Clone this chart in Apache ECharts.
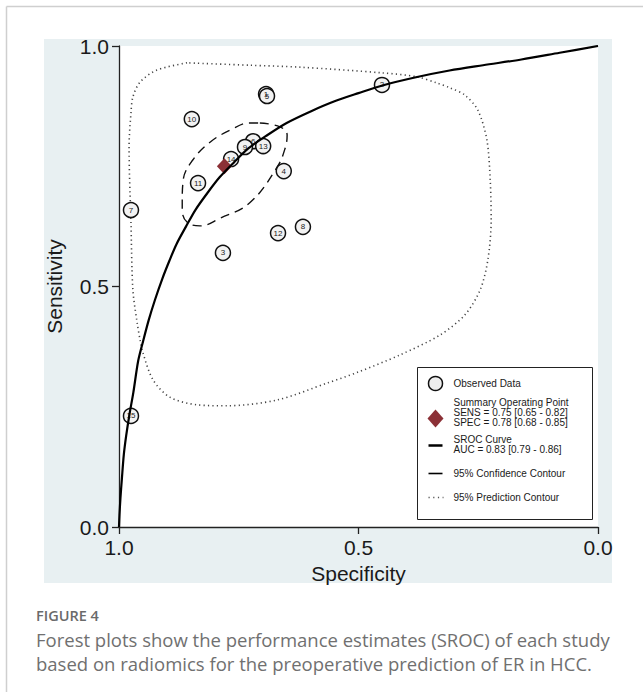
<!DOCTYPE html>
<html>
<head>
<meta charset="utf-8">
<script src="https://cdn.jsdelivr.net/npm/echarts@6/dist/echarts.min.js"></script>
<style>
  html, body { margin: 0; padding: 0; background: #fff; }
  #chart { width: 643px; height: 692px; }
</style>
</head>
<body>
<div id="chart"></div>
<script>
// observed studies
const studyIds = ['1', '5', '2', '10', '6', '13', '9', '14', '4', '11', '7', '12', '8', '3', '15'];
const studySpec = [0.693, 0.691, 0.451, 0.848, 0.720, 0.699, 0.737, 0.766, 0.656, 0.835, 0.975, 0.668, 0.616, 0.783, 0.975];
const studySens = [0.900, 0.896, 0.919, 0.848, 0.802, 0.792, 0.790, 0.765, 0.740, 0.715, 0.659, 0.611, 0.624, 0.570, 0.231];

// summary operating point
const summarySpec = 0.78;
const summarySens = 0.75;

// SROC curve, points
const srocSpec = [1, 0.999, 0.997, 0.994, 0.99, 0.985, 0.978, 0.97, 0.96, 0.95, 0.938, 0.925, 0.91, 0.895, 0.88, 0.86, 0.84, 0.815, 0.79, 0.76, 0.73, 0.69, 0.65, 0.60, 0.55, 0.50, 0.45, 0.38, 0.31, 0.24, 0.16, 0.08, 0];
const srocSens = [0, 0.025, 0.06, 0.10, 0.15, 0.19, 0.235, 0.28, 0.345, 0.385, 0.43, 0.472, 0.515, 0.553, 0.588, 0.625, 0.66, 0.695, 0.727, 0.758, 0.787, 0.815, 0.84, 0.864, 0.885, 0.902, 0.918, 0.935, 0.949, 0.96, 0.972, 0.986, 1];

// 95% confidence contour
const ciSpec = [0.706, 0.664, 0.649, 0.653, 0.670, 0.727, 0.789, 0.831, 0.858, 0.868, 0.868, 0.866, 0.846, 0.810, 0.768, 0.727, 0.706];
const ciSens = [0.840, 0.832, 0.815, 0.788, 0.748, 0.674, 0.642, 0.626, 0.634, 0.659, 0.674, 0.721, 0.763, 0.800, 0.825, 0.840, 0.840];

// 95% prediction contour
const piSpec = [0.858, 0.921, 0.956, 0.971, 0.975, 0.979, 0.975, 0.971, 0.962, 0.956, 0.950, 0.929, 0.894, 0.837, 0.775, 0.670, 0.566, 0.501, 0.413, 0.330, 0.278, 0.246, 0.230, 0.223, 0.225, 0.232, 0.251, 0.278, 0.309, 0.336, 0.378, 0.449, 0.622, 0.727, 0.858];
const piSens = [0.965, 0.950, 0.925, 0.894, 0.861, 0.790, 0.632, 0.493, 0.424, 0.389, 0.362, 0.306, 0.270, 0.254, 0.252, 0.264, 0.299, 0.322, 0.358, 0.399, 0.441, 0.493, 0.555, 0.638, 0.721, 0.805, 0.867, 0.898, 0.913, 0.923, 0.936, 0.944, 0.956, 0.960, 0.965];

const tickLabels = ['0.0', '0.5', '1.0'];

const zip = (a, b) => a.map((v, i) => [v, b[i]]);

const chart = echarts.init(document.getElementById('chart'), null, { renderer: 'svg' });

const axisFont = { fontFamily: 'Liberation Sans', fontSize: 21, color: '#1a1a1a' };
const legendText = { fontFamily: 'Liberation Sans', fontSize: 10, fill: '#1a1a1a', verticalAlign: 'middle' };
const lt = (text, y) => ({ type: 'text', x: 36, y: y, style: Object.assign({ text: text }, legendText) });

const option = {
  animation: false,
  backgroundColor: '#fff',
  grid: { left: 119, top: 46, width: 479, height: 481, show: false },
  xAxis: {
    type: 'value', min: 0, max: 1, interval: 0.5, inverse: true,
    axisLine: { show: true, onZero: false, lineStyle: { color: '#222', width: 1.3 } },
    axisTick: { show: true, length: 7, lineStyle: { color: '#222', width: 1.3 } },
    splitLine: { show: false },
    axisLabel: Object.assign({ margin: 10, formatter: v => tickLabels[Math.round(v * 2)] }, axisFont),
    name: 'Specificity', nameLocation: 'middle', nameGap: 35,
    nameTextStyle: axisFont
  },
  yAxis: {
    type: 'value', min: 0, max: 1, interval: 0.5,
    axisLine: { show: true, onZero: false, lineStyle: { color: '#222', width: 1.3 } },
    axisTick: { show: true, length: 7, lineStyle: { color: '#222', width: 1.3 } },
    splitLine: { show: false },
    axisLabel: Object.assign({ margin: 10, formatter: v => tickLabels[Math.round(v * 2)] }, axisFont),
    name: 'Sensitivity', nameLocation: 'middle', nameGap: 54,
    nameTextStyle: axisFont
  },
  series: [
    {
      name: '95% Prediction Contour', type: 'line', symbol: 'none', smooth: 0.3, z: 2,
      data: zip(piSpec, piSens),
      lineStyle: { color: '#444', width: 1.6, type: [1.2, 3.2] }
    },
    {
      name: '95% Confidence Contour', type: 'line', symbol: 'none', smooth: 0.4, z: 2,
      data: zip(ciSpec, ciSens),
      lineStyle: { color: '#111', width: 1.4, type: [9, 6] }
    },
    {
      name: 'Observed Data', type: 'scatter', symbol: 'circle', symbolSize: 15, z: 3,
      data: studyIds.map((id, i) => ({ name: id, value: [studySpec[i], studySens[i]] })),
      itemStyle: { color: '#f2f2f2', borderColor: '#111', borderWidth: 1.5, opacity: 1 },
      label: { show: true, position: 'inside', formatter: '{b}', fontFamily: 'Liberation Sans', fontSize: 8, color: '#222' }
    },
    {
      name: 'Summary Operating Point', type: 'scatter', symbol: 'diamond', symbolSize: [15, 16], z: 4,
      data: [[summarySpec, summarySens]],
      itemStyle: { color: '#8b3036', opacity: 1 }
    },
    {
      name: 'SROC Curve', type: 'line', symbol: 'none', smooth: 0.3, z: 5,
      data: zip(srocSpec, srocSens),
      lineStyle: { color: '#000', width: 2.2 }
    }
  ],
  graphic: [
    // page frame
    { type: 'line', z: -10, shape: { x1: 6.5, y1: 6.5, x2: 643, y2: 6.5 }, style: { stroke: '#cfcfcf', lineWidth: 1.5 } },
    { type: 'line', z: -10, shape: { x1: 6.5, y1: 6.5, x2: 6.5, y2: 692 }, style: { stroke: '#cfcfcf', lineWidth: 1.5 } },
    // plot panel
    { type: 'rect', z: -20, silent: true, shape: { x: 44, y: 39, width: 568, height: 544 }, style: { fill: '#e8f0f2' } },
    { type: 'rect', z: -15, silent: true, shape: { x: 119, y: 46, width: 479, height: 481 }, style: { fill: '#fff' } },
    // legend
    {
      type: 'group', left: 417, top: 367, z: 100,
      children: [
        { type: 'rect', shape: { x: 0, y: 0, width: 175, height: 152 }, style: { fill: '#fff', stroke: '#222', lineWidth: 1 } },
        { type: 'circle', shape: { cx: 18, cy: 16, r: 7 }, style: { fill: '#eee', stroke: '#111', lineWidth: 1.5 } },
        lt('Observed Data', 16),
        { type: 'polygon', shape: { points: [[18, 42], [26, 51], [18, 60], [10, 51]] }, style: { fill: '#8b3036' } },
        lt('Summary Operating Point', 35),
        lt('SENS = 0.75 [0.65 - 0.82]', 45),
        lt('SPEC = 0.78 [0.68 - 0.85]', 55),
        { type: 'line', shape: { x1: 11, y1: 78, x2: 25, y2: 78 }, style: { stroke: '#000', lineWidth: 2.5 } },
        lt('SROC Curve', 72),
        lt('AUC = 0.83 [0.79 - 0.86]', 82),
        { type: 'line', shape: { x1: 11, y1: 106, x2: 25, y2: 106 }, style: { stroke: '#000', lineWidth: 1.6 } },
        lt('95% Confidence Contour', 106),
        { type: 'line', shape: { x1: 11, y1: 130, x2: 26, y2: 130 }, style: { stroke: '#555', lineWidth: 1.4, lineDash: [1.2, 3.5] } },
        lt('95% Prediction Contour', 130)
      ]
    },
    // caption
    { type: 'text', left: 36, top: 608, style: { text: 'FIGURE 4', fontFamily: 'Open Sans', fontSize: 14.5, fontWeight: 600, fill: '#6a6a6a' } },
    { type: 'text', left: 36, top: 630, style: { text: 'Forest plots show the performance estimates (SROC) of each study', fontFamily: 'Open Sans', fontSize: 18.5, fill: '#707070' } },
    { type: 'text', left: 36, top: 654, style: { text: 'based on radiomics for the preoperative prediction of ER in HCC.', fontFamily: 'Open Sans', fontSize: 18.5, fill: '#707070' } }
  ]
};

chart.setOption(option);
</script>
</body>
</html>
